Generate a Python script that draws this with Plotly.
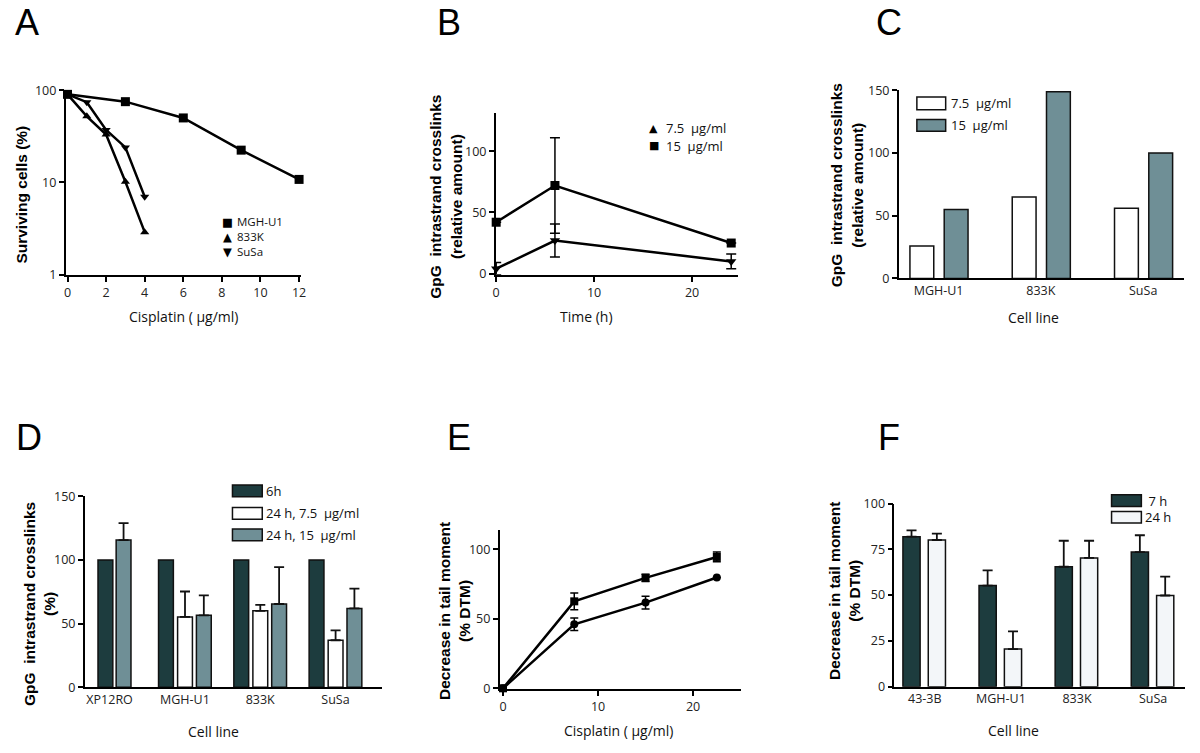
import plotly.graph_objects as go

W, H = 1200, 753

# ---------------- data ----------------
# Panel A: clonogenic survival
a_dose_mgh = [0, 3, 6, 9, 12]
a_surv_mgh = [90, 75, 50, 22.4, 10.8]
a_dose_833k = [0, 1, 2, 3, 4]
a_surv_833k = [90, 52, 33, 10.2, 2.9]
a_dose_susa = [0, 1, 2, 3, 4]
a_surv_susa = [90, 74, 37, 24, 7.0]
a_names = ["MGH-U1", "833K", "SuSa"]
a_xticks = [0, 2, 4, 6, 8, 10, 12]
a_yticks = [1, 10, 100]

# Panel B: time course
b_time = [0, 6, 24]
b_15 = [42, 72, 25]
b_15_err = [0, 39, 0]
b_75 = [4, 27, 10]
b_75_err = [5, 13.5, 6]
b_names = ["7.5\u00a0\u00a0µg/ml", "15\u00a0\u00a0µg/ml"]
b_xticks = [0, 10, 20]
b_yticks = [0, 50, 100]

# Panel C
c_cells = ["MGH-U1", "833K", "SuSa"]
c_75 = [26, 65, 56]
c_15 = [55, 149, 100]
c_names = ["7.5\u00a0\u00a0µg/ml", "15\u00a0\u00a0µg/ml"]
c_yticks = [0, 50, 100, 150]

# Panel D
d_cells = ["XP12RO", "MGH-U1", "833K", "SuSa"]
d_6h = [100, 100, 100, 100]
d_cells_75 = ["MGH-U1", "833K", "SuSa"]
d_24_75 = [55.3, 60.1, 37]
d_24_75_err = [20, 4.7, 7.7]
d_24_15 = [115.7, 56.6, 65.5, 62]
d_24_15_err = [13.3, 15.6, 29, 15.6]
d_names = ["6h", "24 h, 7.5\u00a0\u00a0µg/ml", "24 h, 15\u00a0\u00a0µg/ml"]
d_yticks = [0, 50, 100, 150]

# Panel E
e_dose = [0, 7.5, 15, 22.5]
e_upper = [0, 62.5, 79.4, 94.4]
e_upper_err = [0, 6, 2.6, 3.5]
e_lower = [0, 46, 61.6, 79.6]
e_lower_err = [0, 4.5, 4.6, 0]
e_xticks = [0, 10, 20]
e_yticks = [0, 50, 100]

# Panel F
f_cells = ["43-3B", "MGH-U1", "833K", "SuSa"]
f_7h = [81.9, 55.2, 65.5, 73.5]
f_7h_err = [3.5, 8.3, 14.2, 9.2]
f_24h = [80.1, 20.5, 70.3, 49.8]
f_24h_err = [3.5, 9.7, 9.4, 10.3]
f_names = ["\u00a07 h", "24 h"]
f_yticks = [0, 25, 50, 75, 100]

# ---------------- style ----------------
DARK = "#1d3c3e"
GRAY = "#6f8f96"
LIGHT = "#f3f6f9"
TICKFONT = dict(family="Open Sans, Liberation Sans, sans-serif", size=12.5, color="#222")
TITLEFONT = dict(family="Open Sans, Liberation Sans, sans-serif", size=14, color="#111")
BOLDFONT = dict(family="Liberation Sans, Arial, sans-serif", size=15.5, color="#000")
LABELFONT = dict(family="Liberation Sans, Arial, sans-serif", size=36, color="#000")
LEGFONT = dict(family="Open Sans, Liberation Sans, sans-serif", size=13, color="#111")
SYMFONT = dict(family="DejaVu Sans, sans-serif", size=11, color="#000")


def px_x(a, b):
    return [a / W, b / W]


def px_y(top, bottom):
    return [1 - bottom / H, 1 - top / H]


def X(p):
    return p / W


def Y(p):
    return 1 - p / H


fig = go.Figure()

axis_common = dict(showline=True, linecolor="black", linewidth=1.5, showgrid=False,
                   zeroline=False, ticks="outside", ticklen=5, tickwidth=1.5,
                   tickcolor="black", tickfont=TICKFONT)

# ---------- Panel A ----------
fig.add_trace(go.Scatter(x=a_dose_mgh, y=a_surv_mgh, mode="lines+markers", xaxis="x", yaxis="y",
                         line=dict(color="black", width=2.5), cliponaxis=False,
                         marker=dict(symbol="square", size=9, color="black"), showlegend=False))
fig.add_trace(go.Scatter(x=a_dose_833k, y=a_surv_833k, mode="lines+markers", xaxis="x", yaxis="y",
                         line=dict(color="black", width=2.5), cliponaxis=False,
                         marker=dict(symbol="triangle-up", size=8, color="black"), showlegend=False))
fig.add_trace(go.Scatter(x=a_dose_susa, y=a_surv_susa, mode="lines+markers", xaxis="x", yaxis="y",
                         line=dict(color="black", width=2.5), cliponaxis=False,
                         marker=dict(symbol="triangle-down", size=8, color="black"), showlegend=False))

# ---------- Panel B ----------
fig.add_trace(go.Scatter(x=b_time, y=b_15, mode="lines+markers", xaxis="x2", yaxis="y2",
                         line=dict(color="black", width=2.5), cliponaxis=False,
                         marker=dict(symbol="square", size=9, color="black"),
                         error_y=dict(type="data", array=b_15_err, color="black", thickness=1.5, width=5),
                         showlegend=False))
fig.add_trace(go.Scatter(x=b_time, y=b_75, mode="lines+markers", xaxis="x2", yaxis="y2",
                         line=dict(color="black", width=2.5), cliponaxis=False,
                         marker=dict(symbol="triangle-down", size=9, color="black"),
                         error_y=dict(type="data", array=b_75_err, color="black", thickness=1.5, width=5),
                         showlegend=False))

# ---------- Panel C ----------
bar_line = dict(color="#111", width=1.5)
fig.add_trace(go.Bar(x=c_cells, y=c_75, xaxis="x3", yaxis="y3", width=0.233, offset=-0.28,
                     marker=dict(color="white", line=bar_line), showlegend=False))
fig.add_trace(go.Bar(x=c_cells, y=c_15, xaxis="x3", yaxis="y3", width=0.233, offset=0.055,
                     marker=dict(color=GRAY, line=bar_line), showlegend=False))

# ---------- Panel D ----------
err_d = dict(type="data", symmetric=False, color="#111", thickness=1.8, width=5)
fig.add_trace(go.Bar(x=d_cells, y=d_6h, xaxis="x4", yaxis="y4", width=0.197,
                     offset=[-0.154, -0.35, -0.35, -0.35],
                     marker=dict(color=DARK, line=bar_line), showlegend=False))
fig.add_trace(go.Bar(x=d_cells_75, y=d_24_75, xaxis="x4", yaxis="y4", width=0.197, offset=-0.097,
                     marker=dict(color="white", line=bar_line),
                     error_y=dict(err_d, array=d_24_75_err, arrayminus=[0] * len(d_24_75_err)),
                     showlegend=False))
fig.add_trace(go.Bar(x=d_cells, y=d_24_15, xaxis="x4", yaxis="y4", width=0.197,
                     offset=[0.087, 0.153, 0.153, 0.153],
                     marker=dict(color=GRAY, line=bar_line),
                     error_y=dict(err_d, array=d_24_15_err, arrayminus=[0] * len(d_24_15_err)),
                     showlegend=False))

# ---------- Panel E ----------
fig.add_trace(go.Scatter(x=e_dose, y=e_upper, mode="lines+markers", xaxis="x5", yaxis="y5",
                         line=dict(color="black", width=2.5), cliponaxis=False,
                         marker=dict(symbol="square", size=8, color="black"),
                         error_y=dict(type="data", array=e_upper_err, color="black", thickness=1.5, width=4),
                         showlegend=False))
fig.add_trace(go.Scatter(x=e_dose, y=e_lower, mode="lines+markers", xaxis="x5", yaxis="y5",
                         line=dict(color="black", width=2.5), cliponaxis=False,
                         marker=dict(symbol="circle", size=8, color="black"),
                         error_y=dict(type="data", array=e_lower_err, color="black", thickness=1.5, width=4),
                         showlegend=False))

# ---------- Panel F ----------
fig.add_trace(go.Bar(x=f_cells, y=f_7h, xaxis="x6", yaxis="y6", width=0.226, offset=-0.287,
                     marker=dict(color=DARK, line=bar_line),
                     error_y=dict(err_d, array=f_7h_err, arrayminus=[0] * len(f_7h_err)),
                     showlegend=False))
fig.add_trace(go.Bar(x=f_cells, y=f_24h, xaxis="x6", yaxis="y6", width=0.226, offset=0.046,
                     marker=dict(color=LIGHT, line=bar_line),
                     error_y=dict(err_d, array=f_24h_err, arrayminus=[0] * len(f_24h_err)),
                     showlegend=False))

# ---------------- axes ----------------
cat_x = dict(axis_common, ticks="", tickfont=TICKFONT)

fig.update_layout(
    xaxis=dict(axis_common, domain=px_x(63, 300), range=[-0.1, 12.1], tickvals=a_xticks, anchor="y"),
    yaxis=dict(axis_common, domain=px_y(83, 272), type="log", range=[0, 2], tickvals=a_yticks,
               ticktext=[str(v) for v in a_yticks], anchor="x"),
    xaxis2=dict(axis_common, domain=px_x(496, 740), range=[-0.05, 24.7], tickvals=b_xticks, anchor="y2"),
    yaxis2=dict(axis_common, domain=px_y(106.7, 272), range=[-1, 131], tickvals=b_yticks, anchor="x2"),
    xaxis3=dict(cat_x, domain=px_x(901.7, 1189), range=[-0.39, 2.4], type="category", anchor="y3"),
    yaxis3=dict(axis_common, domain=px_y(83.3, 275.7), range=[0, 150], tickvals=c_yticks, anchor="x3"),
    xaxis4=dict(cat_x, domain=px_x(82.3, 381.7), range=[-0.33, 3.62], type="category", anchor="y4"),
    yaxis4=dict(axis_common, domain=px_y(498.7, 694), range=[0, 150], tickvals=d_yticks, anchor="x4"),
    xaxis5=dict(axis_common, domain=px_x(500, 743), range=[-0.35, 25.05], tickvals=e_xticks, anchor="y5"),
    yaxis5=dict(axis_common, domain=px_y(532.7, 696), range=[-0.7, 114], tickvals=e_yticks, anchor="x5"),
    xaxis6=dict(cat_x, domain=px_x(897.3, 1190), range=[-0.4, 3.42], type="category", anchor="y6"),
    yaxis6=dict(axis_common, domain=px_y(506, 693.3), range=[0, 100], tickvals=f_yticks, anchor="x6"),
)

# ---------------- annotations / legends ----------------
ann = []
shapes = []


def text(x, y, t, font, xanchor="center", yanchor="middle", angle=0, align="center"):
    ann.append(dict(x=X(x), y=Y(y), xref="paper", yref="paper", text=t, showarrow=False,
                    font=font, xanchor=xanchor, yanchor=yanchor, textangle=angle, align=align))


def box(x0, y0, x1, y1, fill):
    shapes.append(dict(type="rect", xref="paper", yref="paper", x0=X(x0), x1=X(x1), y0=Y(y1), y1=Y(y0),
                       fillcolor=fill, line=dict(color="#111", width=1.5)))


# panel letters
for lab, (lx, ly) in zip("ABCDEF", [(24, 14), (449, 14), (892, 14), (26, 438), (459, 438), (892, 438)]):
    text(lx, ly, lab, LABELFONT)

# axis titles
text(19, 190, "<b>Surviving cells (%)</b>", BOLDFONT, angle=-90)
text(182, 315, "Cisplatin (\u00a0µg/ml)", TITLEFONT)
text(446, 192, "<b>GpG\u00a0\u00a0intrastrand crosslinks<br>(relative amount)</b>", BOLDFONT, angle=-90)
text(587, 315, "Time (h)", TITLEFONT)
text(850, 180, "<b>GpG\u00a0\u00a0intrastrand crosslinks<br>(relative amount)</b>", BOLDFONT, angle=-90)
text(1037, 316, "Cell line", TITLEFONT)
text(36, 609, "<b>GpG\u00a0\u00a0intrastrand crosslinks<br>(%)</b>", BOLDFONT, angle=-90)
text(212, 739, "Cell line", TITLEFONT)
text(454, 616, "<b>Decrease in tail moment<br>(% DTM)</b>", BOLDFONT, angle=-90)
text(620, 738, "Cisplatin (\u00a0µg/ml)", TITLEFONT)
text(847, 595, "<b>Decrease in tail moment<br>(% DTM)</b>", BOLDFONT, angle=-90)
text(1017, 738, "Cell line", TITLEFONT)

# legend A (one multi-line block for symbols and one for names)
LEGA = dict(LEGFONT, size=11.5)
SYMA = dict(SYMFONT, size=11.5)
text(226, 233, "<br>".join(["■", "▲", "▼"]), SYMA)
text(234, 233, "<br>".join(a_names), LEGA, xanchor="left", align="left")

# legend B
for sym, name, yy in zip(["▲", "■"], b_names, [122, 140]):
    text(655, yy, sym, SYMFONT)
    text(665, yy, name, LEGFONT, xanchor="left")

# legend C
for fill, name, (y0, y1) in zip(["white", GRAY], c_names, [(90, 103), (113, 125)]):
    box(920, y0, 949, y1, fill)
    text(952, (y0 + y1) / 2, name, LEGFONT, xanchor="left")

# legend D
for fill, name, (y0, y1) in zip([DARK, "white", GRAY], d_names, [(487, 499), (510, 522), (532, 544)]):
    box(231, y0, 261, y1, fill)
    text(263, (y0 + y1) / 2, name, LEGFONT, xanchor="left")

# legend F
for fill, name, (y0, y1) in zip([DARK, LIGHT], f_names, [(497, 509), (514, 526)]):
    box(1116, y0, 1146, y1, fill)
    text(1148, (y0 + y1) / 2, name, LEGFONT, xanchor="left")

fig.update_layout(
    width=W, height=H, margin=dict(l=0, r=0, t=0, b=0),
    paper_bgcolor="white", plot_bgcolor="white",
    barmode="overlay", annotations=ann, shapes=shapes,
)

fig.write_html("out.html", config={"displayModeBar": False},
               post_script="document.body.style.margin='0';")
